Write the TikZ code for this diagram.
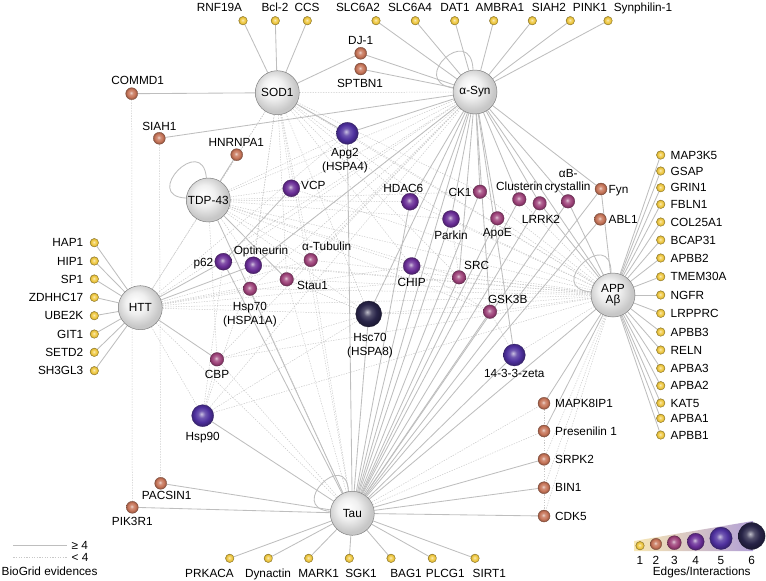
\documentclass[tikz,border=0pt]{standalone}
\usepackage{fontspec}
\setmainfont{Liberation Sans}
\usetikzlibrary{backgrounds}
\definecolor{cY}{RGB}{240,200,62}
\definecolor{cB}{RGB}{198,116,88}
\definecolor{cM}{RGB}{158,66,122}
\definecolor{cP}{RGB}{105,45,150}
\definecolor{cV}{RGB}{78,48,158}
\definecolor{cD}{RGB}{40,36,72}
\definecolor{edgeS}{RGB}{190,190,190}
\definecolor{edgeD}{RGB}{200,200,200}
\newcommand\mkball[1]{\pgfdeclareradialshading{ball#1}{\pgfqpoint{-3bp}{4bp}}{color(0bp)=(c#1!30!white); color(8bp)=(c#1!80!white); color(17bp)=(c#1); color(25bp)=(c#1!72!black); color(50bp)=(c#1!72!black)}}
\mkball{Y}\mkball{B}\mkball{M}\mkball{P}\mkball{V}\mkball{D}
\pgfdeclareradialshading{hubsh}{\pgfqpoint{-6bp}{7bp}}{color(0bp)=(white); color(12bp)=(black!6); color(25bp)=(black!22); color(50bp)=(black!22)}
\begin{document}
\begin{tikzpicture}[x=1pt,y=-1pt,
  lbl/.style={font=\fontsize{11.8}{13}\selectfont, inner sep=0pt, text height=8.4pt, text depth=0pt},
  hub/.style={circle, inner sep=0pt, minimum size=44pt, draw=black!50, line width=0.5pt,
              shading=hubsh, font=\fontsize{11.8}{13}\selectfont},
  bY/.style={circle, inner sep=0pt, minimum size=8.6pt, shading=ballY, draw=cY!55!black, line width=0.3pt},
  bB/.style={circle, inner sep=0pt, minimum size=12pt, shading=ballB, draw=cB!60!black, line width=0.3pt},
  bM/.style={circle, inner sep=0pt, minimum size=13.6pt, shading=ballM, draw=cM!60!black, line width=0.3pt},
  bP/.style={circle, inner sep=0pt, minimum size=17pt, shading=ballP, draw=cP!60!black, line width=0.3pt},
  bV/.style={circle, inner sep=0pt, minimum size=22pt, shading=ballV, draw=cV!60!black, line width=0.3pt},
  bD/.style={circle, inner sep=0pt, minimum size=26pt, shading=ballD, draw=cD!60!black, line width=0.3pt},
  solidE/.style={draw=edgeS, line width=0.85pt},
  dotE/.style={draw=edgeD, line width=0.5pt, dash pattern=on 1.3pt off 1.3pt},
]
\useasboundingbox (0,0) rectangle (766,581);

% ---------- hubs
\node[hub] (sod) at (277.3,92.7) {SOD1};
\node[hub] (asyn) at (475,92) {α-Syn};
\node[hub] (tdp) at (208.3,200) {TDP-43};
\node[hub] (htt) at (140.3,307.7) {HTT};
\node[hub, align=center] (app) at (613,295) {APP\\[-2pt]Aβ};
\node[hub] (tau) at (352.3,513.3) {Tau};

% ---------- top yellows
\foreach \n/\x in {rnf/243, bcl/275.3, ccs/307.3, slcb/376, slcd/415.3, dat/454.7, ambra/493.7, siahb/532.3, pink/570.3, synph/608}
  \node[bY] (\n) at (\x,20.7) {};
\foreach \n/\x/\t in {lrnf/219.5/RNF19A, lbcl/275/Bcl-2, lccs/307/CCS, lslcb/358/SLC6A2, lslcd/410/SLC6A4, ldat/455/DAT1, lambra/500/AMBRA1, lsiahb/549/SIAH2, lpink/590/PINK1, lsynph/643/Synphilin-1}
  \node[lbl] (\n) at (\x,7) {\t};

% ---------- left yellows
\foreach \n/\y/\t in {hap/242.7/HAP1, hip/261/HIP1, spa/279/SP1, zdh/297.3/ZDHHC17, ube/315.7/UBE2K, git/334/GIT1, setd/352.3/SETD2, shg/370.7/SH3GL3}{
  \node[bY] (\n) at (94.3,\y) {};
  \node[lbl, anchor=east] (l\n) at (83.5,\y) {\t};
}

% ---------- right yellows
\foreach \n/\y/\t in {ra/155/MAP3K5, rb/171/GSAP, rc/187.7/GRIN1, rd/204.3/FBLN1, re/222/COL25A1, rf/240/BCAP31, rg/258/APBB2, rh/276.7/TMEM30A, ri/295/NGFR, rj/313.3/LRPPRC, rk/332/APBB3, rl/350/RELN, rm/368.3/APBA3, rn/385.7/APBA2, ro/403/KAT5, rp/418.3/APBA1, rq/435/APBB1}{
  \node[bY] (\n) at (660.7,\y) {};
  \node[lbl, anchor=west] (l\n) at (670.5,\y) {\t};
}

% ---------- bottom yellows
\foreach \n/\x in {prk/229.7, dyn/268.3, mark/308.7, sgk/349.3, bag/391, plcg/432.3, sirt/475}
  \node[bY] (\n) at (\x,558.3) {};
\foreach \n/\x/\t in {lprk/209.5/PRKACA, ldyn/268/Dynactin, lmark/318.7/MARK1, lsgk/361/SGK1, lbag/406/BAG1, lplcg/445.3/PLCG1, lsirt/489.3/SIRT1}
  \node[lbl] (\n) at (\x,573) {\t};

% ---------- brown
\node[bB] (dj) at (360.7,53.3) {};      \node[lbl] (ldj) at (360.7,40.7) {DJ-1};
\node[bB] (sptbn) at (360.7,69) {};     \node[lbl] (lsptbn) at (360,83.3) {SPTBN1};
\node[bB] (commd) at (131.7,93.7) {};   \node[lbl] (lcommd) at (137.7,80.7) {COMMD1};
\node[bB] (siaha) at (159.3,138.3) {};  \node[lbl] (lsiaha) at (159.3,126) {SIAH1};
\node[bB] (hnrnp) at (236.7,154.7) {};  \node[lbl] (lhnrnp) at (236.3,142.7) {HNRNPA1};
\node[bB] (fyn) at (601,189) {};        \node[lbl, anchor=west] (lfyn) at (608.5,189) {Fyn};
\node[bB] (abl) at (600.3,219.3) {};    \node[lbl, anchor=west] (labl) at (608.5,219.3) {ABL1};
\node[bB] (pacsin) at (160.7,483.3) {}; \node[lbl] (lpacsin) at (166.7,495.7) {PACSIN1};
\node[bB] (pik) at (132.3,507.3) {};    \node[lbl] (lpik) at (132.3,521) {PIK3R1};
\foreach \n/\y/\t in {mapk/403.3/MAPK8IP1, psen/431/Presenilin 1, srpk/459.3/SRPK2, bin/487.7/BIN1, cdk/516/CDK5}{
  \node[bB] (\n) at (544,\y) {};
  \node[lbl, anchor=west] (l\n) at (555,\y) {\t};
}

% ---------- magenta
\node[bM] (hsp70) at (250,288.7) {};  \node[lbl] (lhsp70a) at (250,306) {Hsp70}; \node[lbl] (lhsp70b) at (250,320) {(HSPA1A)};
\node[bM] (stau) at (286.7,279.3) {}; \node[lbl, anchor=west] (lstau) at (297,285) {Stau1};
\node[bM] (atub) at (310.7,260) {};   \node[lbl] (latub) at (326.7,246.7) {α-Tubulin};
\node[bM] (ck) at (480,191.7) {};     \node[lbl] (lck) at (460,192.7) {CK1};
\node[bM] (apoe) at (497.3,218.3) {}; \node[lbl] (lapoe) at (497.3,232.7) {ApoE};
\node[bM] (clus) at (519.3,199.3) {}; \node[lbl] (lclus) at (519.5,186) {Clusterin};
\node[bM] (lrrk) at (539.7,203.3) {}; \node[lbl] (llrrk) at (541,219) {LRRK2};
\node[bM] (abc) at (568,201.3) {};    \node[lbl] (labca) at (568.3,173.3) {αB-}; \node[lbl] (labcb) at (567.5,186.7) {crystallin};
\node[bM] (src) at (459,277.3) {};    \node[lbl] (lsrc) at (476.7,265) {SRC};
\node[bM] (gsk) at (490,311.7) {};    \node[lbl] (lgsk) at (507.7,299) {GSK3B};
\node[bM] (cbp) at (217,359.3) {};    \node[lbl] (lcbp) at (217,374) {CBP};

% ---------- purple
\node[bP] (vcp) at (291.3,188.3) {};    \node[lbl] (lvcp) at (313.3,185.7) {VCP};
\node[bP] (p62) at (223.3,261.7) {};    \node[lbl, anchor=east] (lp62) at (213.5,262.7) {p62};
\node[bP] (optn) at (253.3,265.3) {};   \node[lbl] (loptn) at (261,250.7) {Optineurin};
\node[bP] (hdac) at (410,201.7) {};     \node[lbl] (lhdac) at (403.3,188.3) {HDAC6};
\node[bP] (parkin) at (451,219) {};     \node[lbl] (lparkin) at (451,235) {Parkin};
\node[bP] (chip) at (411.7,266) {};     \node[lbl] (lchip) at (411.7,282.7) {CHIP};

% ---------- violet / dark
\node[bV] (apg) at (347.3,133.3) {};    \node[lbl] (lapga) at (345,152) {Apg2}; \node[lbl] (lapgb) at (345,166) {(HSPA4)};
\node[bV] (ywhaz) at (514.3,355) {};    \node[lbl] (lywhaz) at (514.3,373.3) {14-3-3-zeta};
\node[bV] (hsp90) at (202.7,415.7) {};  \node[lbl] (lhsp90) at (202.7,436.7) {Hsp90};
\node[bD] (hsc) at (368.7,314) {};      \node[lbl] (lhsca) at (370,337.3) {Hsc70}; \node[lbl] (lhscb) at (370,351.7) {(HSPA8)};

% ---------- legends
\coordinate (s1) at (13.3,545.7); \coordinate (s2) at (66.7,545.7);
\coordinate (d1) at (13.3,557.3); \coordinate (d2) at (66.7,557.3);
\node[lbl, anchor=west] (lge) at (71.5,545.7) {≥ 4};
\node[lbl, anchor=west] (llt) at (71.5,557.3) {< 4};
\node[lbl, anchor=west] (lbio) at (1.5,571.7) {BioGrid evidences};

\begin{scope}[on background layer]
  \shade[left color={rgb,255:red,248;green,232;blue,180}, right color={rgb,255:red,178;green,160;blue,214}]
    (634,541) -- (753,521) -- (753,551) -- (634,551) -- cycle;
\end{scope}
\node[bY, minimum size=8.6pt] (g1) at (640,545.7) {};
\node[bB, minimum size=11.4pt] (g2) at (656,544) {};
\node[bM, minimum size=14pt] (g3) at (674.3,542.7) {};
\node[bP, minimum size=17pt] (g4) at (695.7,541.7) {};
\node[bV, minimum size=22.4pt] (g5) at (721,538.3) {};
\node[bD, minimum size=26.8pt] (g6) at (751.7,536) {};
\foreach \i/\x in {1/640, 2/656, 3/674.3, 4/695.7, 5/721, 6/751.7}
  \node[lbl] (gl\i) at (\x,560) {\i};
\node[lbl] (ledges) at (701.7,571.7) {Edges/Interactions};

% ---------- edges
\begin{scope}[on background layer]
\draw[solidE] (s1) -- (s2);
\draw[dotE] (d1) -- (d2);
% dotted
\foreach \a/\b in {sod/asyn, sod/tdp, sod/vcp, sod/hsp70, sod/stau, sod/atub, sod/hdac, sod/chip, sod/hsc, sod/parkin, sod/app, sod/tau, sod/src, sod/ck, sod/htt, sod/optn,
  tdp/asyn, tdp/vcp, tdp/optn, tdp/atub, tdp/hdac, tdp/chip, tdp/hsc, tdp/app, tdp/parkin, tdp/src, tdp/gsk, tdp/cbp, tdp/apg, tdp/ck,
  htt/app, htt/hsc, htt/atub, htt/stau, htt/chip, htt/src, htt/tau, htt/hsp90, htt/asyn, htt/hsp70, htt/tdp, htt/apg,
  commd/pik, siaha/pacsin,
  asyn/p62, asyn/optn, asyn/stau, asyn/atub, asyn/hsp70, asyn/cbp, asyn/hsp90, asyn/vcp,
  app/p62, app/optn, app/stau, app/hsp70, app/hsc, app/chip, app/src, app/gsk, app/ywhaz, app/parkin, app/apoe, app/ck, app/hdac, app/vcp, app/apg, app/clus, app/srpk, app/bin, app/cdk, app/atub, app/cbp, app/hsp90,
  tau/mapk, tau/psen, tau/hsp70, tau/cbp, tau/stau, tau/atub,
  hsp90/hsc, hsp90/cbp, hsp90/p62, hsp90/optn, cbp/hsc, hsc/gsk, chip/gsk, stau/hsc, src/parkin, gsk/ywhaz, psen/cdk, mapk/psen}
  \draw[dotE] (\a) -- (\b);
% solid
\foreach \a/\b in {sod/rnf, sod/bcl, sod/ccs, sod/dj, sod/commd, sod/apg,
  asyn/slcb, asyn/slcd, asyn/dat, asyn/ambra, asyn/siahb, asyn/pink, asyn/synph, asyn/dj, asyn/sptbn, asyn/siaha, asyn/apg,
  asyn/tau, asyn/hsc, asyn/chip, asyn/hdac, asyn/parkin, asyn/ck, asyn/apoe, asyn/clus, asyn/lrrk, asyn/abc, asyn/fyn, asyn/src, asyn/gsk, asyn/ywhaz, asyn/app, asyn/optn,
  tdp/hnrnp, tdp/tau, tdp/stau, vcp/p62,
  htt/hap, htt/hip, htt/spa, htt/zdh, htt/ube, htt/git, htt/setd, htt/shg, htt/p62, htt/optn, htt/cbp,
  tau/apg, tau/p62, tau/hsp90, tau/pacsin, tau/pik, tau/prk, tau/dyn, tau/mark, tau/sgk, tau/bag, tau/plcg, tau/sirt, tau/srpk, tau/bin, tau/cdk,
  tau/app, tau/hsc, tau/chip, tau/hdac, tau/parkin, tau/ck, tau/apoe, tau/clus, tau/lrrk, tau/abc, tau/fyn, tau/abl, tau/src, tau/gsk, tau/ywhaz,
  app/ra, app/rb, app/rc, app/rd, app/re, app/rf, app/rg, app/rh, app/ri, app/rj, app/rk, app/rl, app/rm, app/rn, app/ro, app/rp, app/rq,
  app/mapk, app/psen, app/abc, app/lrrk, app/fyn}
  \draw[solidE] (\a) -- (\b);
% self loops
\draw[solidE] (asyn.95) .. controls +(-2,-48) and +(-46,-8) .. (asyn.170);
\draw[solidE] (tdp.95) .. controls +(-4,-45) and +(-45,-2) .. (tdp.175);
\draw[solidE] (app.95) .. controls +(0,-48) and +(-48,-4) .. (app.172);
\draw[solidE] (tau.100) .. controls +(-2,-44) and +(-44,-4) .. (tau.175);
\end{scope}
\end{tikzpicture}
\end{document}
